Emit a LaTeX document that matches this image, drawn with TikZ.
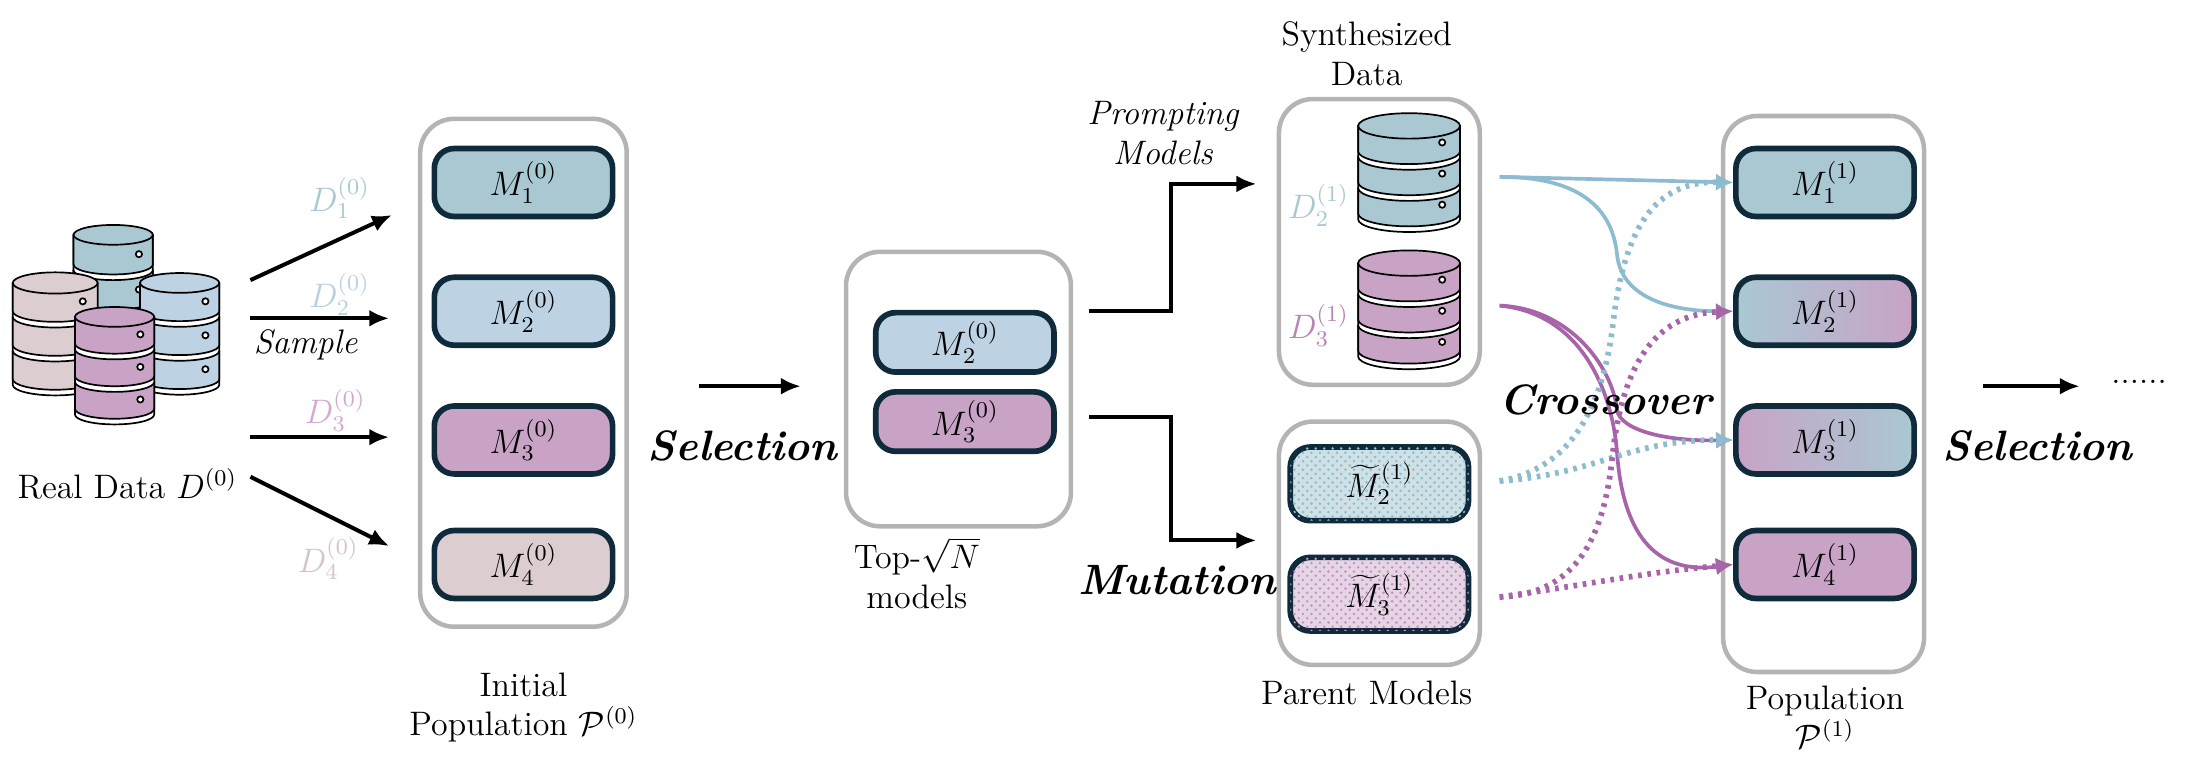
\documentclass[tikz,border=0pt]{standalone}
\usetikzlibrary{arrows.meta,patterns}
\definecolor{teal}{HTML}{A9C8D2}
\definecolor{lblue}{HTML}{BDD3E3}
\definecolor{pur}{HTML}{C8A3C6}
\definecolor{tan}{HTML}{DCCDD0}
\definecolor{dk}{HTML}{0F2A3A}
\definecolor{gry}{HTML}{B4B4B4}
\definecolor{cblue}{HTML}{8DBCD0}
\definecolor{cpur}{HTML}{A864A8}
\definecolor{dA}{HTML}{A9C8D2}
\definecolor{dB}{HTML}{B7D0E2}
\definecolor{dC}{HTML}{D2A9CF}
\definecolor{dD}{HTML}{D6C2CA}
\tikzset{
 outer/.style={draw=gry,line width=1.6pt,rounded corners=12pt},
 mbox/.style={draw=dk,line width=2pt,rounded corners=7pt,minimum width=63pt,minimum height=24pt,font=\large},
 arr/.style={-{Latex[length=7pt,width=6pt]},line width=1.4pt},
 lab/.style={font=\rmfamily\fontsize{12}{14}\selectfont,align=center},
 big/.style={font=\rmfamily\fontsize{15}{18}\selectfont\bfseries\itshape},
 cb/.style={-{Latex[length=6pt,width=6pt]},cblue,line width=1.3pt},
 cp/.style={-{Latex[length=6pt,width=6pt]},cpur,line width=1.3pt},
 pics/db/.style n args={3}{code={
  \foreach \k in {3,2,1}{
   \pgfmathsetmacro\yt{-(\k-1)*(#3+4)}
   \pgfmathsetmacro\yb{\yt-#3}
   \filldraw[fill=white,draw=black,line width=0.6pt] (-#2,\yt) -- (-#2,\yb-4) arc(180:360:#2 and #2*0.25) -- (#2,\yt) -- cycle;
   \filldraw[fill=#1,draw=black,line width=0.6pt] (-#2,\yt) -- (-#2,\yb) arc(180:360:#2 and #2*0.25) -- (#2,\yt);
   \draw[line width=0.6pt,fill=white] (#2*0.65,\yb+#3*0.35) circle (2.2);
  }
  \filldraw[fill=#1,draw=black,line width=0.6pt] (0,0) ellipse (#2 and #2*0.25);
 }}
}
\begin{document}
\begin{tikzpicture}[x=0.5pt,y=0.5pt]
\useasboundingbox (0,0) rectangle (1560,-545);
\pic at (80,-166) {db={teal}{28}{21}};
\pic at (39,-200) {db={tan}{30}{20}};
\pic at (127,-200) {db={lblue}{28}{20}};
\pic at (81,-224) {db={pur}{28}{19}};
\node[lab] (real) at (90,-342) {Real Data $D^{(0)}$};
\coordinate (s1) at (177,-198); \coordinate (s2) at (177,-225);
\coordinate (s3) at (177,-309); \coordinate (s4) at (177,-337);
\draw[outer] (297,-84) rectangle (443,-443);
\node[mbox,fill=teal] (a1) at (370,-129) {$M_1^{(0)}$};
\node[mbox,fill=lblue] (a2) at (370,-220) {$M_2^{(0)}$};
\node[mbox,fill=pur] (a3) at (370,-311) {$M_3^{(0)}$};
\node[mbox,fill=tan] (a4) at (370,-399) {$M_4^{(0)}$};
\draw[arr] (s1) -- (277,-152);
\draw[arr] (s2) -- (275,-225);
\draw[arr] (s3) -- (275,-309);
\draw[arr] (s4) -- (275,-386);
\node[lab,text=dA] at (240,-140) {$D_1^{(0)}$};
\node[lab,text=dB] at (240,-208) {$D_2^{(0)}$};
\node[lab] at (216,-244) {\itshape Sample};
\node[lab,text=dC] at (237,-290) {$D_3^{(0)}$};
\node[lab,text=dD] at (232,-395) {$D_4^{(0)}$};
\node[lab] at (370,-500) {Initial\\Population $\mathcal{P}^{(0)}$};
\coordinate (p1) at (494,-273);
\draw[arr] (p1) -- (566,-273);
\node[big] at (525,-315) {Selection};
\draw[outer] (598,-178) rectangle (757,-372);
\node[mbox,fill=lblue,minimum height=21pt,inner sep=1pt] (t2) at (682,-242) {$M_2^{(0)}$};
\node[mbox,fill=pur,minimum height=21pt,inner sep=1pt] (t3) at (682,-298) {$M_3^{(0)}$};
\node[lab] at (648,-405) {Top-$\sqrt{N}$\\models};
\coordinate (q1) at (770,-220); \coordinate (q2) at (770,-295);
\draw[arr] (q1) -- (828,-220) -- (828,-130) -- (888,-130);
\draw[arr] (q2) -- (828,-295) -- (828,-382) -- (888,-382);
\node[lab] at (822,-94) {\itshape Prompting\\\itshape Models};
\node[big] at (832,-410) {Mutation};
\draw[outer] (904,-70) rectangle (1046,-272);
\node[lab] at (966,-38) {Synthesized\\Data};
\pic at (996,-89) {db={teal}{36}{18}};
\pic at (996,-186) {db={pur}{36}{18}};
\node[lab,text=dA] (d2) at (932,-145) {$D_2^{(1)}$};
\node[lab,text=cpur!80] (d3) at (932,-230) {$D_3^{(1)}$};
\draw[outer] (904,-298) rectangle (1046,-470);
\node[mbox,fill=teal!55,minimum height=26pt,postaction={pattern=crosshatch dots,pattern color=cblue}] (m2) at (975,-342) {$\widetilde{M}_2^{(1)}$};
\node[mbox,fill=pur!45,minimum height=26pt,postaction={pattern=crosshatch dots,pattern color=cpur!70}] (m3) at (975,-420) {$\widetilde{M}_3^{(1)}$};
\node[lab] at (966,-490) {Parent Models};
\draw[outer] (1218,-82) rectangle (1360,-475);
\node[mbox,fill=teal] (b1) at (1290,-129) {$M_1^{(1)}$};
\node[mbox,left color=teal,right color=pur] (b2) at (1290,-220) {$M_2^{(1)}$};
\node[mbox,left color=pur,right color=teal] (b3) at (1290,-311) {$M_3^{(1)}$};
\node[mbox,fill=pur] (b4) at (1290,-399) {$M_4^{(1)}$};
\node[lab] at (1290,-507) {Population\\$\mathcal{P}^{(1)}$};
\coordinate (c1) at (1060,-125); \coordinate (c2) at (1060,-216);
\coordinate (c3) at (1060,-340); \coordinate (c4) at (1060,-422);
\draw[cb] (c1) -- (b1.west);
\draw[cb] (c1) .. controls (1120,-125) and (1140,-150) .. (1143,-180) .. controls (1146,-210) and (1180,-220) .. (b2.west);
\draw[cp] (c2) .. controls (1110,-218) and (1140,-260) .. (1143,-290) .. controls (1146,-305) and (1180,-312) .. (b3.west);
\draw[cp] (c2) .. controls (1120,-222) and (1140,-280) .. (1143,-320) .. controls (1148,-390) and (1180,-405) .. (b4.west);
\draw[cb,dotted,line width=2pt] (c3) .. controls (1120,-330) and (1135,-270) .. (1140,-230) .. controls (1148,-160) and (1170,-128) .. (b1.west);
\draw[cb,dotted,line width=2pt] (c3) .. controls (1130,-335) and (1150,-311) .. (b3.west);
\draw[cp,dotted,line width=2pt] (c4) .. controls (1120,-420) and (1135,-370) .. (1140,-320) .. controls (1148,-250) and (1175,-222) .. (b2.west);
\draw[cp,dotted,line width=2pt] (c4) .. controls (1130,-412) and (1160,-405) .. (b4.west);
\node[big] at (1135,-283) {Crossover};
\coordinate (f1) at (1402,-273);
\draw[arr] (f1) -- (1470,-273);
\node[big] at (1440,-315) {Selection};
\node[lab] at (1512,-270) {......};
\end{tikzpicture}
\end{document}
